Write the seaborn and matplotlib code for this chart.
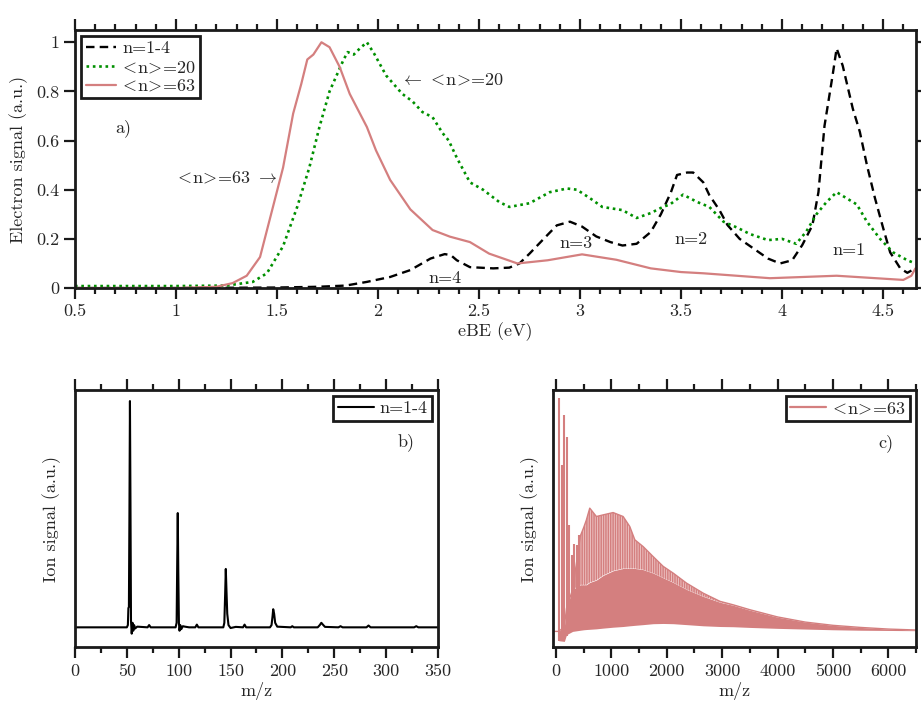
import numpy as np
import pandas as pd
import matplotlib
matplotlib.use('Agg')
import matplotlib.pyplot as plt
from matplotlib.ticker import MultipleLocator, FuncFormatter
import seaborn as sns

# panel a: photoelectron spectra, eBE (eV) vs normalised electron signal
ebe_n14 = [0.5, 1.0, 1.5, 1.7, 1.84, 1.945, 2.06, 2.16, 2.26, 2.33, 2.36, 2.39, 2.455, 2.57,
           2.65, 2.70, 2.75, 2.82, 2.885, 2.95, 3.01, 3.08, 3.15, 3.21, 3.28, 3.35, 3.40, 3.45,
           3.48, 3.53, 3.56, 3.61, 3.64, 3.69, 3.73, 3.79, 3.86, 3.93, 3.99, 4.05, 4.10, 4.15,
           4.18, 4.21, 4.25, 4.27, 4.30, 4.35, 4.385, 4.42, 4.46, 4.50, 4.535, 4.585, 4.62, 4.66]
sig_n14 = [0.0, 0.0, 0.002, 0.005, 0.01, 0.025, 0.045, 0.073, 0.12, 0.138, 0.134, 0.113, 0.085, 0.08,
           0.083, 0.10, 0.14, 0.20, 0.255, 0.27, 0.25, 0.21, 0.187, 0.173, 0.18, 0.228, 0.30, 0.39,
           0.46, 0.47, 0.47, 0.43, 0.378, 0.317, 0.256, 0.20, 0.16, 0.12, 0.10, 0.113, 0.175, 0.255,
           0.39, 0.66, 0.865, 0.975, 0.905, 0.73, 0.635, 0.50, 0.365, 0.245, 0.145, 0.08, 0.062, 0.08]

ebe_n20 = [0.5, 1.0, 1.25, 1.38, 1.45, 1.53, 1.60, 1.66, 1.71, 1.76, 1.83, 1.85, 1.88, 1.91, 1.945,
           1.98, 2.04, 2.12, 2.17, 2.22, 2.27, 2.32, 2.35, 2.39, 2.455, 2.52, 2.60, 2.65, 2.75, 2.85,
           2.935, 2.985, 3.05, 3.11, 3.21, 3.28, 3.35, 3.41, 3.445, 3.51, 3.58, 3.64, 3.71, 3.78,
           3.84, 3.93, 4.0, 4.07, 4.12, 4.17, 4.22, 4.27, 4.32, 4.37, 4.42, 4.485, 4.55, 4.62, 4.66]
sig_n20 = [0.008, 0.008, 0.01, 0.025, 0.06, 0.17, 0.33, 0.49, 0.655, 0.80, 0.93, 0.96, 0.95, 0.975, 1.0,
           0.955, 0.865, 0.79, 0.76, 0.716, 0.695, 0.63, 0.60, 0.53, 0.43, 0.40, 0.35, 0.33, 0.345, 0.39,
           0.405, 0.40, 0.365, 0.33, 0.317, 0.285, 0.305, 0.33, 0.34, 0.38, 0.35, 0.33, 0.27, 0.245,
           0.22, 0.195, 0.20, 0.18, 0.23, 0.30, 0.35, 0.39, 0.365, 0.34, 0.27, 0.20, 0.145, 0.113, 0.10]

ebe_n63 = [0.5, 1.0, 1.2, 1.28, 1.35, 1.416, 1.48, 1.53, 1.58, 1.62, 1.65, 1.68, 1.72, 1.76, 1.81,
           1.86, 1.945, 1.99, 2.06, 2.16, 2.27, 2.356, 2.455, 2.55, 2.69, 2.84, 3.01, 3.18, 3.35,
           3.5, 3.61, 3.94, 4.27, 4.6, 4.64, 4.66]
sig_n63 = [0.0, 0.0, 0.005, 0.02, 0.05, 0.126, 0.33, 0.49, 0.71, 0.83, 0.93, 0.95, 1.0, 0.98, 0.90,
           0.79, 0.655, 0.56, 0.44, 0.32, 0.236, 0.209, 0.187, 0.14, 0.10, 0.113, 0.137, 0.115, 0.08,
           0.065, 0.06, 0.04, 0.05, 0.033, 0.05, 0.08]

# panel b: mass spectrum n=1-4
b_mz = [0, 50, 51, 51.5, 52, 52.5, 53, 53.5, 54, 54.7, 55.5, 56.2, 57, 58, 60, 70, 71.5, 73, 97, 98,
        98.6, 99.1, 99.6, 100.2, 100.8, 101.5, 102.5, 104, 106, 110, 116, 117.5, 119, 143, 144, 144.8,
        145.4, 146, 146.8, 148, 150, 155, 162, 163.5, 165, 188, 189.5, 190.5, 191.1, 192, 193, 195,
        208, 209.5, 211, 234, 236, 237.5, 239, 241, 254, 256, 258, 281, 283, 285, 327, 329, 331, 350]
b_sig = [0, 0, 0.01, 0.085, 0.09, 0.5, 1.0, 0.55, 0.03, -0.028, 0.02, -0.015, 0.01, -0.005, 0.003, 0, 0.01, 0, 0, 0.02,
         0.3, 0.505, 0.25, 0.02, -0.015, 0.01, -0.008, 0.005, 0.003, 0, 0, 0.012, 0, 0, 0.02, 0.15,
         0.258, 0.17, 0.06, 0.01, -0.003, 0.002, 0, 0.012, 0, 0, 0.01, 0.05, 0.08, 0.06, 0.02, 0.003,
         0, 0.005, 0, 0, 0.01, 0.02, 0.012, 0.002, 0, 0.005, 0, 0, 0.008, 0, 0, 0.005, 0, 0]

# panel c: mass spectrum <n>=63, envelopes of the dense peak comb
c_mz = [-55, 30, 50, 150, 190, 300, 440, 500, 548, 609, 729, 850, 1031, 1212, 1332, 1423, 1573, 1754,
        1935, 2116, 2357, 2658, 2960, 3200, 3500, 4000, 4500, 5000, 5500, 6000, 6500]
c_upper = [0, 0, 0, 0.02, 0.1, 0.18, 0.41, 0.446, 0.478, 0.529, 0.493, 0.50, 0.51, 0.493, 0.45, 0.393,
           0.364, 0.321, 0.279, 0.25, 0.207, 0.164, 0.129, 0.114, 0.093, 0.062, 0.04, 0.026, 0.017, 0.01, 0.006]
c_valley = [0, 0, 0, 0.02, 0.1, 0.18, 0.2, 0.2, 0.2, 0.21, 0.22, 0.24, 0.26, 0.27, 0.27, 0.27,
            0.265, 0.25, 0.23, 0.21, 0.18, 0.15, 0.125, 0.112, 0.091, 0.061, 0.04, 0.026, 0.017, 0.01, 0.006]
c_lower = [0, 0, -0.04, -0.043, -0.014, 0, 0.005, 0.007, 0.008, 0.009, 0.011, 0.014, 0.018, 0.021, 0.024,
           0.026, 0.029, 0.033, 0.034, 0.033, 0.029, 0.024, 0.021, 0.02, 0.017, 0.013, 0.01, 0.007, 0.005, 0.004, 0.003]
# first resolved peaks of the comb
c_peak_mz = [54, 103, 139, 193, 235, 284, 325, 374, 422]
c_peak_top = [1.0, 0.714, 0.93, 0.835, 0.457, 0.326, 0.376, 0.37, 0.414]
c_peak_low = [-0.04, -0.04, -0.043, -0.02, -0.005, 0.0, 0.002, 0.004, 0.006]

RED = '#d47f7f'
RED_LIGHT = '#efc8c8'
GREEN = '#009000'
INK = '#1a1a1a'
FS = 13

# relation symbols in mathtext get padded, pull them back in
LT = r'$\!<\!$'
GT = r'$\!>\!$'
LAB20 = LT + 'n' + GT + '=20'
LAB63 = LT + 'n' + GT + '=63'

sns.set_style('ticks')
plt.rcParams['font.family'] = ['cmr10', 'DejaVu Serif']
plt.rcParams['mathtext.fontset'] = 'cm'
plt.rcParams['axes.formatter.use_mathtext'] = True
plt.rcParams['axes.unicode_minus'] = False
plt.rcParams['hatch.linewidth'] = 1.1


def frame(ax, xmaj, xmin, yticks=True):
    for s in ax.spines.values():
        s.set_visible(True)
        s.set_linewidth(2.0)
        s.set_color(INK)
    ax.xaxis.set_major_locator(MultipleLocator(xmaj))
    ax.xaxis.set_minor_locator(MultipleLocator(xmin))
    ax.xaxis.set_major_formatter(FuncFormatter(lambda v, p: '%g' % v))
    ax.tick_params(axis='x', which='both', direction='out', bottom=True, top=True,
                   width=1.6, color=INK, labelsize=FS)
    ax.tick_params(axis='x', which='major', length=8)
    ax.tick_params(axis='x', which='minor', length=4.5)
    if yticks:
        ax.tick_params(axis='y', which='major', direction='out', left=True, right=True,
                       length=8, width=1.6, color=INK, labelsize=FS)
        ax.yaxis.set_major_formatter(FuncFormatter(lambda v, p: '%g' % v))
    else:
        ax.tick_params(axis='y', which='both', left=False, right=False, labelleft=False)
    ax.set_facecolor('white')


def legend(ax, loc, hl=1.7):
    leg = ax.legend(loc=loc, fontsize=FS, frameon=True, fancybox=False, framealpha=1,
                    edgecolor=INK, borderpad=0.25, labelspacing=0.15, handlelength=hl,
                    handletextpad=0.3, borderaxespad=0.35)
    leg.get_frame().set_linewidth(2.0)
    return leg


fig = plt.figure(figsize=(9.21, 7.07), dpi=100)
ax_a = fig.add_axes([0.0814, 0.5926, 0.9132, 0.3650])
ax_b = fig.add_axes([0.0814, 0.0842, 0.3942, 0.3642])
ax_c = fig.add_axes([0.6004, 0.0842, 0.3942, 0.3642])

# ---- a) photoelectron spectra
sns.lineplot(x=ebe_n14, y=sig_n14, ax=ax_a, color='black', lw=1.7,
             linestyle=(0, (3.6, 2.2)), label='n=1-4')
sns.lineplot(x=ebe_n20, y=sig_n20, ax=ax_a, color=GREEN, lw=1.9,
             linestyle=(0, (1, 1.4)), label=LAB20)
sns.lineplot(x=ebe_n63, y=sig_n63, ax=ax_a, color=RED, lw=1.6, label=LAB63)
ax_a.set_xlim(0.5, 4.663)
ax_a.set_ylim(0, 1.05)
ax_a.yaxis.set_major_locator(MultipleLocator(0.2))
frame(ax_a, 0.5, 0.1)
ax_a.set_xlabel('eBE (eV)', fontsize=FS, labelpad=2)
ax_a.set_ylabel('Electron signal (a.u.)', fontsize=FS, labelpad=6)
legend(ax_a, 'upper left')
ax_a.text(0.74, 0.65, 'a)', fontsize=FS, ha='center', va='center')
ax_a.text(1.5, 0.45, LAB63 + r' $\rightarrow$', fontsize=FS, ha='right', va='center')
ax_a.text(2.11, 0.85, r'$\leftarrow$ ' + LAB20, fontsize=FS, ha='left', va='center')
ax_a.text(2.33, 0.04, 'n=4', fontsize=FS, ha='center', va='center')
ax_a.text(2.98, 0.18, 'n=3', fontsize=FS, ha='center', va='center')
ax_a.text(3.55, 0.20, 'n=2', fontsize=FS, ha='center', va='center')
ax_a.text(4.33, 0.155, 'n=1', fontsize=FS, ha='center', va='center')

# ---- b) mass spectrum n=1-4
sns.lineplot(x=b_mz, y=b_sig, ax=ax_b, color='black', lw=1.5, label='n=1-4')
ax_b.set_xlim(0, 350)
ax_b.set_ylim(-0.089, 1.049)
frame(ax_b, 50, 25, yticks=False)
ax_b.set_xlabel('m/z', fontsize=FS, labelpad=2)
ax_b.set_ylabel('Ion signal (a.u.)', fontsize=FS, labelpad=10)
legend(ax_b, 'upper right', hl=2.0)
ax_b.text(319, 0.82, 'b)', fontsize=FS, ha='center', va='center')

# ---- c) mass spectrum <n>=63 (comb too dense to resolve: solid core + striped tops)
ax_c.fill_between(c_mz, c_lower, c_valley, color=RED, lw=0)
ax_c.fill_between(c_mz, c_valley, c_upper, facecolor=RED_LIGHT, edgecolor=RED,
                  hatch='|' * 7, lw=0)
ax_c.vlines(c_peak_mz, c_peak_low, c_peak_top, color=RED, lw=1.5)
sns.lineplot(x=c_mz, y=c_upper, ax=ax_c, color=RED, lw=1.0, label=LAB63)
ax_c.set_xlim(-55, 6500)
ax_c.set_ylim(-0.069, 1.036)
frame(ax_c, 1000, 500, yticks=False)
ax_c.set_xlabel('m/z', fontsize=FS, labelpad=2)
ax_c.set_ylabel('Ion signal (a.u.)', fontsize=FS, labelpad=10)
leg = legend(ax_c, 'upper right', hl=2.0)
for h in leg.get_lines():
    h.set_linewidth(1.6)
ax_c.text(5949, 0.81, 'c)', fontsize=FS, ha='center', va='center')

fig.savefig('out.png', dpi=100)
